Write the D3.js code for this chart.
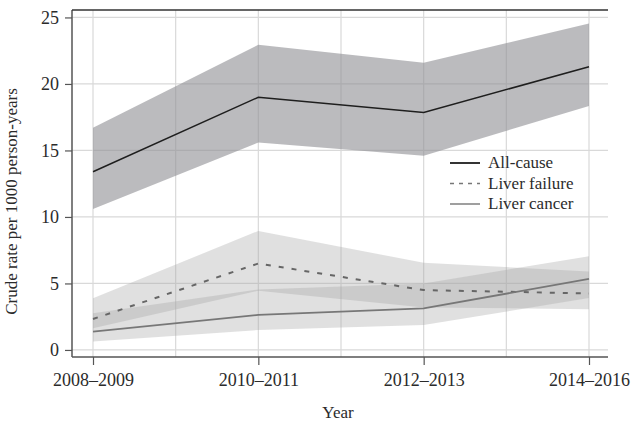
<!DOCTYPE html>
<html>
<head>
<meta charset="utf-8">
<script src="https://cdn.jsdelivr.net/npm/d3@7"></script>
<style>
  body { margin: 0; background: #fff; }
  text { font-family: "Liberation Serif", "DejaVu Serif", serif; fill: #2b2b2b; }
</style>
</head>
<body>
<div id="chart"></div>
<script>
var years = ["2008–2009", "2010–2011", "2012–2013", "2014–2016"];
var yTicks = [0, 5, 10, 15, 20, 25];

var allCause   = [13.4, 19.0, 17.85, 21.3];
var allCauseLo = [10.6, 15.6, 14.6, 18.35];
var allCauseHi = [16.7, 22.95, 21.6, 24.55];

var liverFailure   = [2.33, 6.5, 4.5, 4.25];
var liverFailureLo = [1.63, 4.45, 3.2, 3.06];
var liverFailureHi = [3.89, 8.95, 6.55, 5.9];

var liverCancer   = [1.38, 2.63, 3.13, 5.34];
var liverCancerLo = [0.63, 1.5, 1.88, 3.9];
var liverCancerHi = [2.76, 4.55, 5.0, 7.05];

var legendLabels = ["All-cause", "Liver failure", "Liver cancer"];

var margin = {top: 10, right: 23, bottom: 67, left: 72};
var width = 631 - margin.left - margin.right;
var height = 424 - margin.top - margin.bottom;

var svg = d3.select("#chart").append("svg")
  .attr("width", 631)
  .attr("height", 424)
  .append("g")
  .attr("transform", "translate(" + margin.left + "," + margin.top + ")");

var x = d3.scalePoint().domain(years).range([21, 517]);
var y = d3.scaleLinear().domain([-0.53, 25.56]).range([height, 0]);

// gridlines: majors at each category, minors half way between
var step = x.step();
var vGrid = [];
years.forEach(function(d, i) {
  vGrid.push(x(d));
  if (i < years.length - 1) vGrid.push(x(d) + step / 2);
});

svg.selectAll("line.vgrid")
  .data(vGrid)
  .enter().append("line")
  .attr("class", "vgrid")
  .attr("x1", function(d) { return d; })
  .attr("x2", function(d) { return d; })
  .attr("y1", 0)
  .attr("y2", height)
  .attr("stroke", "#d9d9d9")
  .attr("stroke-width", 1.2);

svg.selectAll("line.hgrid")
  .data(yTicks)
  .enter().append("line")
  .attr("class", "hgrid")
  .attr("x1", 0)
  .attr("x2", width)
  .attr("y1", function(d) { return y(d); })
  .attr("y2", function(d) { return y(d); })
  .attr("stroke", "#d9d9d9")
  .attr("stroke-width", 1.2);

function band(lo, hi) {
  return d3.area()
    .x(function(d, i) { return x(years[i]); })
    .y0(function(d, i) { return y(lo[i]); })
    .y1(function(d, i) { return y(hi[i]); })(lo);
}

function line(vals) {
  return d3.line()
    .x(function(d, i) { return x(years[i]); })
    .y(function(d) { return y(d); })(vals);
}

// confidence bands
svg.append("path")
  .attr("d", band(allCauseLo, allCauseHi))
  .attr("fill", "#8e8e93")
  .attr("fill-opacity", 0.6);

svg.append("path")
  .attr("d", band(liverFailureLo, liverFailureHi))
  .attr("fill", "#a4a4a4")
  .attr("fill-opacity", 0.34);

svg.append("path")
  .attr("d", band(liverCancerLo, liverCancerHi))
  .attr("fill", "#a4a4a4")
  .attr("fill-opacity", 0.34);

// lines
svg.append("path")
  .attr("d", line(allCause))
  .attr("fill", "none")
  .attr("stroke", "#1e1e1e")
  .attr("stroke-width", 1.5);

svg.append("path")
  .attr("d", line(liverFailure))
  .attr("fill", "none")
  .attr("stroke", "#666")
  .attr("stroke-width", 2)
  .attr("stroke-dasharray", "5,8");

svg.append("path")
  .attr("d", line(liverCancer))
  .attr("fill", "none")
  .attr("stroke", "#777")
  .attr("stroke-width", 1.8);

// axes
var xAxis = svg.append("g")
  .attr("transform", "translate(0," + height + ")")
  .call(d3.axisBottom(x).tickSize(8).tickPadding(8));
var yAxis = svg.append("g")
  .call(d3.axisLeft(y).tickValues(yTicks).tickSize(7).tickPadding(6));

[xAxis, yAxis].forEach(function(a) {
  a.select(".domain").remove();
  a.selectAll(".tick line").attr("stroke", "#555").attr("stroke-width", 1.2);
  a.selectAll(".tick text")
    .attr("font-size", 18)
    .attr("font-family", "Liberation Serif, serif")
    .attr("fill", "#2b2b2b");
});

svg.append("line")
  .attr("x1", 0).attr("x2", width).attr("y1", height).attr("y2", height)
  .attr("stroke", "#555").attr("stroke-width", 1.5);
svg.append("line")
  .attr("x1", 0).attr("x2", 0).attr("y1", 0).attr("y2", height)
  .attr("stroke", "#555").attr("stroke-width", 1.5);
svg.append("line")
  .attr("x1", 0).attr("x2", width).attr("y1", 0).attr("y2", 0)
  .attr("stroke", "#333").attr("stroke-width", 1.5);

// titles
svg.append("text")
  .attr("x", 266)
  .attr("y", 408)
  .attr("text-anchor", "middle")
  .attr("font-size", 17)
  .text("Year");

svg.append("text")
  .attr("transform", "translate(-55," + (height / 2 + 18) + ") rotate(-90)")
  .attr("text-anchor", "middle")
  .attr("font-size", 17)
  .text("Crude rate per 1000 person-years");

// legend
var legendStyles = [
  {stroke: "#1e1e1e", dash: null, w: 1.8},
  {stroke: "#777", dash: "4,5", w: 1.6},
  {stroke: "#888", dash: null, w: 1.6}
];

var legend = svg.selectAll("g.legend")
  .data(legendLabels)
  .enter().append("g")
  .attr("class", "legend")
  .attr("transform", function(d, i) { return "translate(378," + (153 + i * 20.5) + ")"; });

legend.append("line")
  .attr("x1", 0).attr("x2", 30)
  .attr("y1", 0).attr("y2", 0)
  .attr("stroke", function(d, i) { return legendStyles[i].stroke; })
  .attr("stroke-width", function(d, i) { return legendStyles[i].w; })
  .attr("stroke-dasharray", function(d, i) { return legendStyles[i].dash; });

legend.append("text")
  .attr("x", 38)
  .attr("y", 5)
  .attr("font-size", 17)
  .text(function(d) { return d; });
</script>
</body>
</html>
